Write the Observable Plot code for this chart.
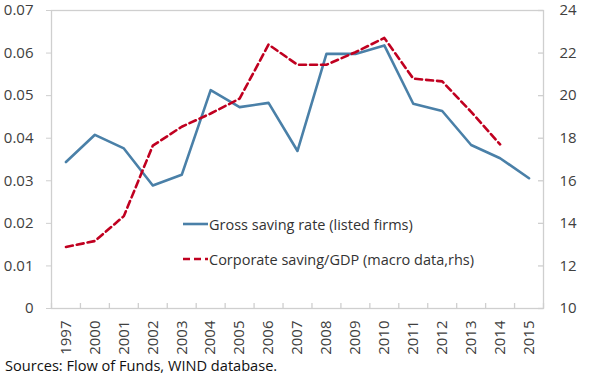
<!DOCTYPE html>
<html>
<head>
<meta charset="utf-8">
<script src="https://cdn.jsdelivr.net/npm/d3@7"></script>
<script src="https://cdn.jsdelivr.net/npm/@observablehq/plot@0.6"></script>
<style>
  body { margin: 0; background: #fff; font-family: "Open Sans", sans-serif; }
  #wrap { position: relative; width: 590px; }
  #caption { font-size: 14.6px; color: #111; padding-left: 5px; line-height: 18px; margin-top: 2px; }
  .legend { position: absolute; font-size: 14.5px; color: #333; display: flex; align-items: center; white-space: nowrap; }
  .legend svg { margin-right: 1px; }
</style>
</head>
<body>
<div id="wrap"></div>
<script>
const years = ["1997","2000","2001","2002","2003","2004","2005","2006","2007","2008","2009","2010","2011","2012","2013","2014","2015"];
const grossSaving = [0.0344,0.0408,0.0376,0.0289,0.0314,0.0513,0.0473,0.0483,0.0370,0.0598,0.0598,0.0618,0.0481,0.0464,0.0384,0.0353,0.0306];
const corpSaving = [12.89,13.17,14.34,17.65,18.54,19.16,19.86,22.40,21.45,21.45,22.04,22.71,20.80,20.67,19.24,17.71];
const leftTicks = [0,0.01,0.02,0.03,0.04,0.05,0.06,0.07];
const rightTicks = [10,12,14,16,18,20,22,24];
const seriesNames = ["Gross saving rate (listed firms)", "Corporate saving/GDP (macro data,rhs)"];
const caption = "Sources: Flow of Funds, WIND database.";

const blue = "#4a80a8";
const red = "#c00020";
const axisGray = "#cfcfcf";
const textGray = "#404040";

// right axis mapped onto left scale
const rMin = 10, rMax = 24, lMax = 0.07;
const toLeft = r => (r - rMin) / (rMax - rMin) * lMax;

const blueData = grossSaving.map((v, i) => ({i, v}));
const redData = corpSaving.map((v, i) => ({i, v: toLeft(v)}));
const boundaries = d3.range(years.length + 1).map(i => i - 0.5);

const W = 590, H = 354, mL = 51, mR = 47, mT = 10, mB = 46;
const innerW = W - mL - mR, innerH = H - mT - mB;

const chart = Plot.plot({
  width: W, height: H,
  marginLeft: mL, marginRight: mR, marginTop: mT, marginBottom: mB,
  style: {fontFamily: "'Open Sans', sans-serif", fontSize: "14.5px", color: textGray, background: "#fff"},
  x: {type: "linear", domain: [-0.5, years.length - 0.5], axis: null},
  y: {domain: [0, lMax], axis: null},
  marks: [
    Plot.frame({stroke: axisGray, strokeWidth: 1.3}),
    Plot.axisY({anchor: "left", ticks: leftTicks, tickSize: 5, tickPadding: 13, stroke: axisGray, fill: textGray,
      tickFormat: d => d === 0 ? "0" : d.toFixed(2), label: null, fontSize: 15}),
    Plot.axisY({anchor: "right", ticks: rightTicks.map(toLeft), tickSize: 0, tickPadding: 16, fill: textGray,
      tickFormat: (d) => String(rightTicks[Math.round(d / lMax * (rMax - rMin) / 2)]), label: null, fontSize: 15}),
    Plot.ruleY(rightTicks.map(toLeft), {stroke: axisGray, strokeWidth: 1.3, insetLeft: innerW - 5}),
    Plot.ruleX(boundaries, {stroke: axisGray, strokeWidth: 1.3, insetTop: innerH - 5}),
    Plot.axisX({ticks: d3.range(years.length), tickFormat: i => years[i], tickRotate: -90, tickSize: 0, tickPadding: 12,
      fill: textGray, label: null, fontSize: 15}),
    Plot.line(blueData, {x: "i", y: "v", stroke: blue, strokeWidth: 2.6}),
    Plot.line(redData, {x: "i", y: "v", stroke: red, strokeWidth: 2.6, strokeDasharray: "7,4"})
  ]
});

const wrap = document.getElementById("wrap");
wrap.appendChild(chart);

function legendItem(top, color, dash, label) {
  const div = document.createElement("div");
  div.className = "legend";
  div.style.left = "183px";
  div.style.top = (top - 10) + "px";
  div.style.height = "20px";
  div.innerHTML = `<svg width="25" height="6"><line x1="0" y1="3" x2="25" y2="3" stroke="${color}" stroke-width="2.6" ${dash ? 'stroke-dasharray="7,4"' : ''}/></svg><span>${label}</span>`;
  wrap.appendChild(div);
}
legendItem(224, blue, false, seriesNames[0]);
legendItem(259, red, true, seriesNames[1]);

const cap = document.createElement("div");
cap.id = "caption";
cap.textContent = caption;
document.body.appendChild(cap);
</script>
</body>
</html>
